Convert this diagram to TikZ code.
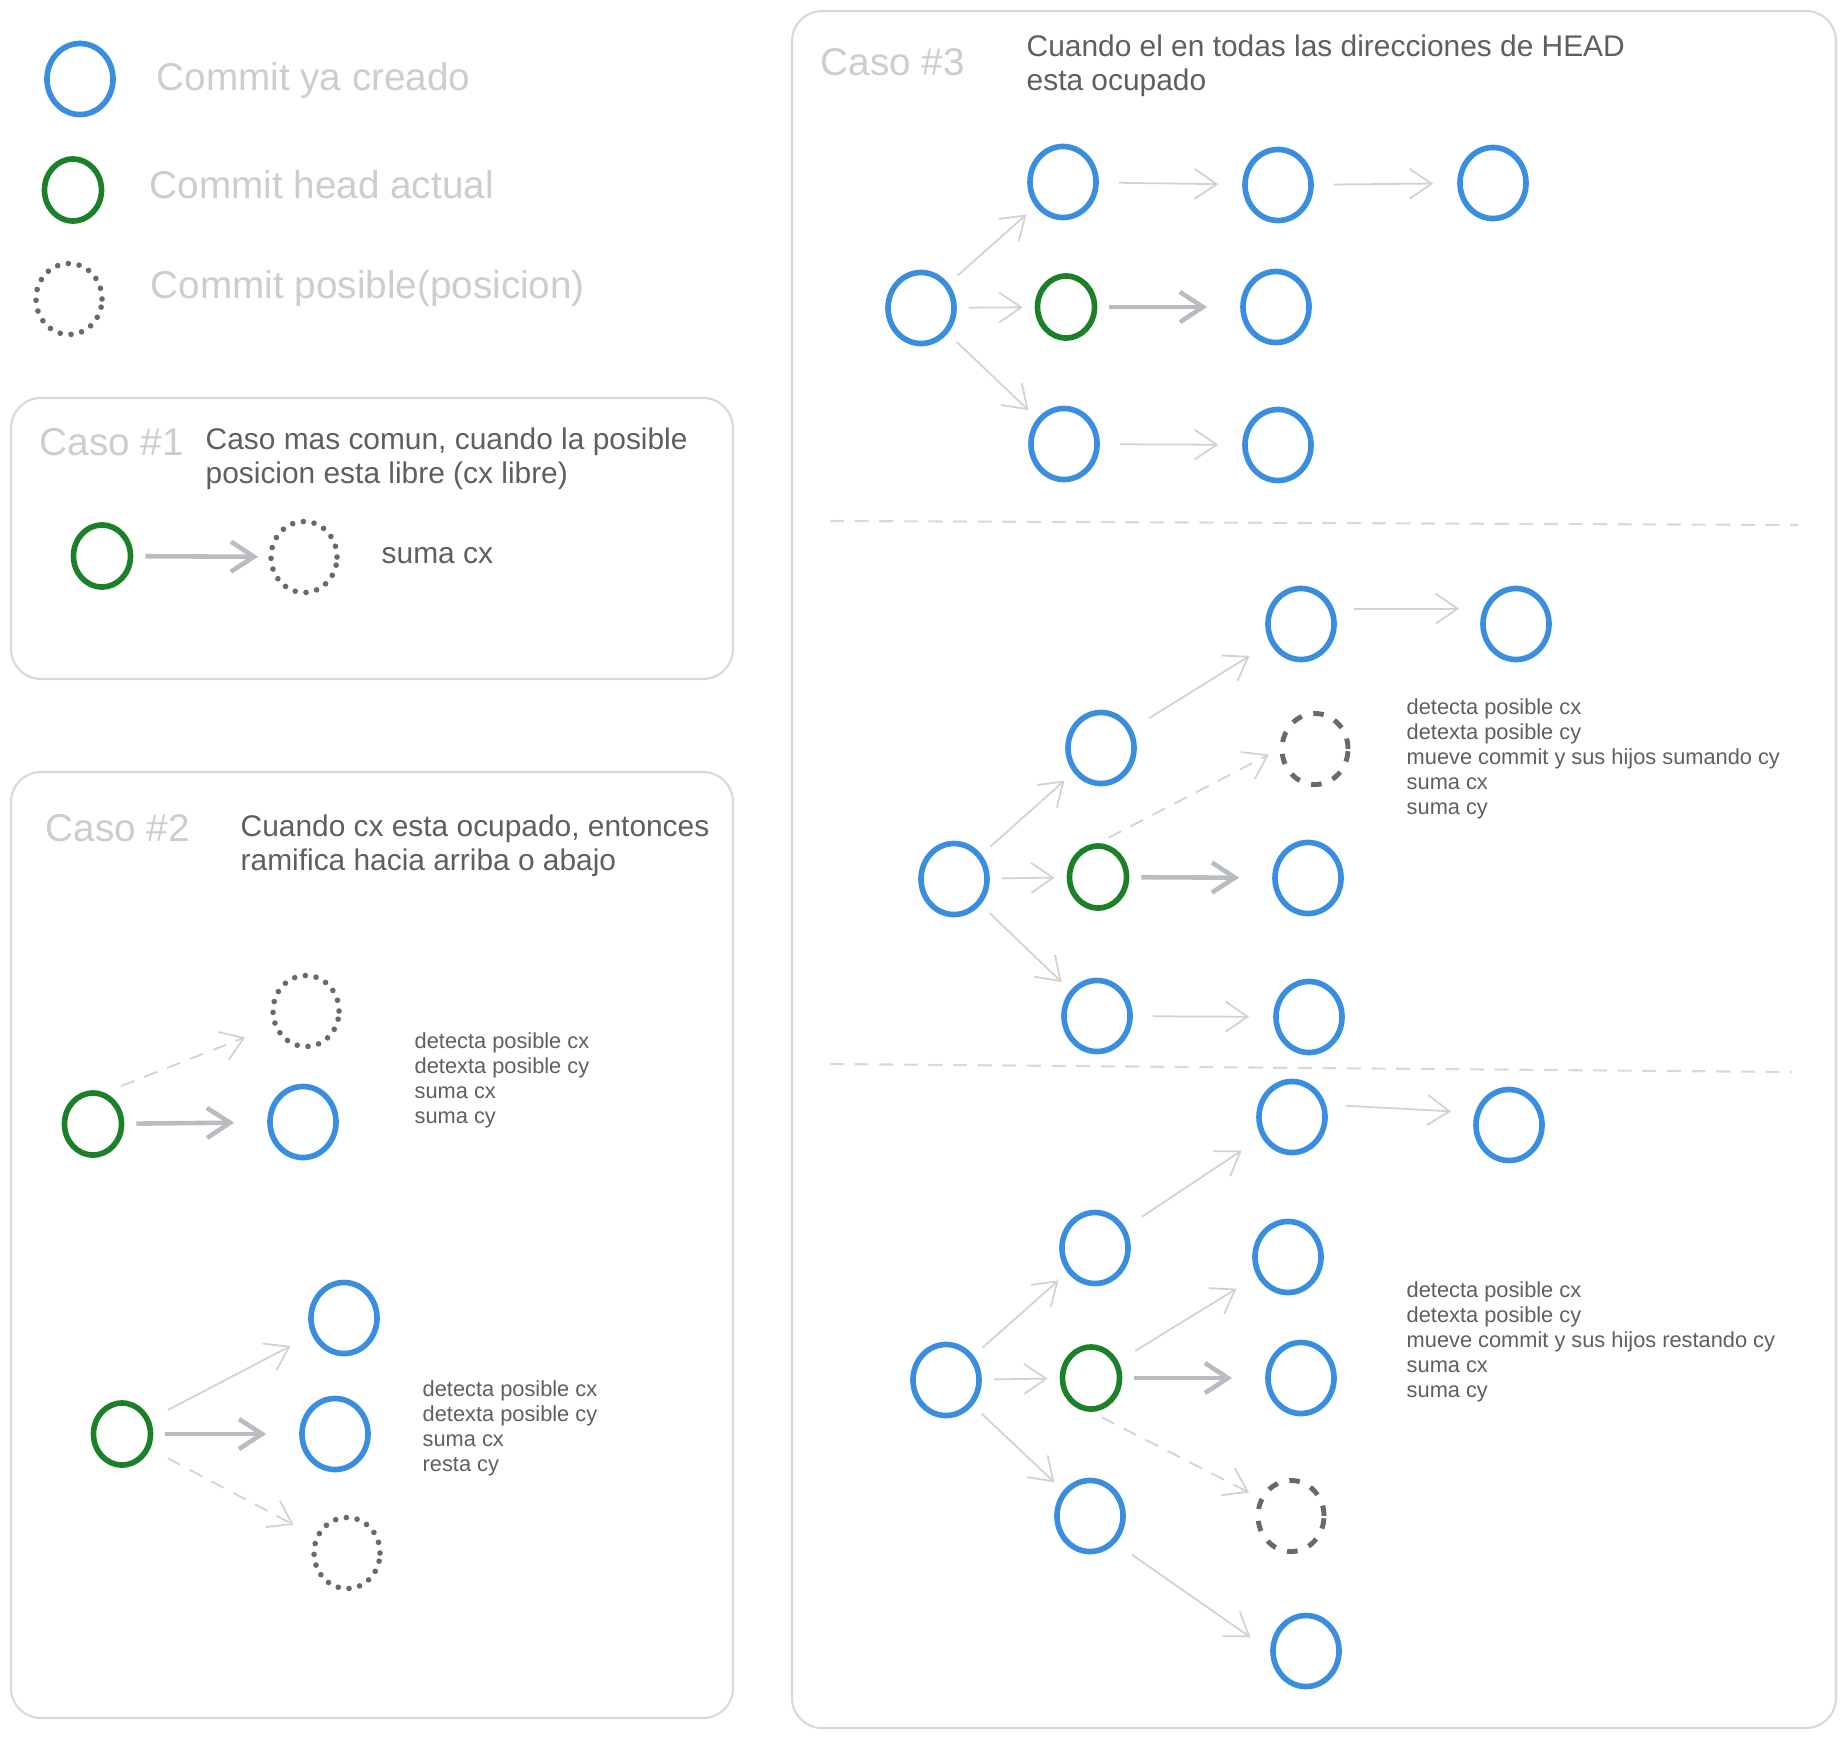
\documentclass[tikz,border=0pt]{standalone}
\usepackage{fontspec}
\setmainfont{Liberation Sans}
\usetikzlibrary{positioning}
\usetikzlibrary{arrows.meta}
\usetikzlibrary{shapes.geometric}

\definecolor{azul}{HTML}{3A8EE0}
\definecolor{verde}{HTML}{1B8128}
\definecolor{punto}{HTML}{666A70}
\definecolor{tinta}{HTML}{5C5F64}
\definecolor{tenue}{HTML}{CDCDCD}
\definecolor{gris}{HTML}{D2D2D2}
\definecolor{grisfuerte}{HTML}{B9BDC1}
\definecolor{borde}{HTML}{D9D9D9}

\begin{document}
\begin{tikzpicture}[x=0.01cm, y=-0.01cm,
    commit/.style={ellipse, draw=azul, line width=1.6pt, minimum width=6.6mm, minimum height=7.1mm, inner sep=0pt},
    head/.style={commit, draw=verde, minimum width=5.7mm, minimum height=6.2mm},
    posible/.style={commit, draw=punto, line width=1.6pt, line cap=round, dash pattern=on 0pt off 3.1pt},
    posdash/.style={commit, draw=punto, line width=1.4pt, dash pattern=on 3pt off 3.4pt},
    flecha/.style={draw=gris, line width=0.5pt, -{Straight Barb[length=2.2mm,width=3mm]}, shorten <=1.2mm, shorten >=1.2mm},
    lejos/.style={shorten <=2mm, shorten >=2.4mm},
    grueso/.style={draw=grisfuerte, line width=1.3pt, -{Straight Barb[length=2.3mm,width=3mm]}, shorten <=1.2mm, shorten >=3.3mm},
    tanteo/.style={flecha, dash pattern=on 4pt off 3pt},
    caja/.style={draw=borde, line width=0.6pt, rounded corners=3mm},
    corte/.style={draw=borde, line width=0.6pt, dash pattern=on 4pt off 3pt},
    caso/.style={anchor=west, inner sep=0pt, text=tenue, font=\fontsize{11}{13}\selectfont},
    nota/.style={anchor=west, inner sep=0pt, text=tinta, align=left, font=\fontsize{8.5}{9.6}\selectfont},
    pasos/.style={anchor=west, inner sep=0pt, text=tinta, align=left, font=\fontsize{6.2}{7.1}\selectfont}]

    \useasboundingbox (0,0) rectangle (1843,1736);
    \fill[white] (0,0) rectangle (1843,1736);

    % leyenda
    \node[commit] (lgc) at (80,79) {};
    \node[head] (lgh) at (73,190) {};
    \node[posible] (lgp) at (69,299) {};
    \node[caso] (lgct) at (156,80) {Commit ya creado};
    \node[caso] (lght) at (149,185) {Commit head actual};
    \node[caso] (lgpt) at (150,288) {Commit posible(posicion)};

    % caso 1
    \draw[caja] (11,398) rectangle (733,679);
    \node[caso] (c1t) at (39,442) {Caso \#1};
    \node[nota] (c1d) at (205,459) {Caso mas comun, cuando la posible\\posicion esta libre (cx libre)};
    \node[head] (c1h) at (102,556) {};
    \node[posible] (c1p) at (304,557) {};
    \node[nota] (c1n) at (381,556) {suma cx};
    \draw[grueso, shorten >=1mm] (c1h) -- (c1p);

    % caso 2
    \draw[caja] (11,772) rectangle (733,1718);
    \node[caso] (c2t) at (45,828) {Caso \#2};
    \node[nota] (c2d) at (240,846) {Cuando cx esta ocupado, entonces\\ramifica hacia arriba o abajo};

    \node[posible] (c2ap) at (306,1011) {};
    \node[head] (c2ah) at (93,1124) {};
    \node[commit] (c2ab) at (303,1122) {};
    \draw[grueso] (c2ah) -- (c2ab);
    \draw[tanteo, shorten <=1.8mm, shorten >=3mm] (c2ah.70) -- (c2ap.205);
    \node[pasos] (c2an) at (414,1080) {detecta posible cx\\detexta posible cy\\suma cx\\suma cy};

    \node[head] (c2bh) at (122,1434) {};
    \node[commit] (c2bt) at (344,1318) {};
    \node[commit] (c2bm) at (335,1434) {};
    \node[posible] (c2bp) at (347,1553) {};
    \draw[flecha, lejos] (c2bh) -- (c2bt);
    \draw[grueso] (c2bh) -- (c2bm);
    \draw[tanteo, lejos] (c2bh) -- (c2bp);
    \node[pasos] (c2bn) at (422,1428) {detecta posible cx\\detexta posible cy\\suma cx\\resta cy};

    % caso 3
    \draw[caja] (792,11) rectangle (1836,1728);
    \node[caso] (c3t) at (820,62) {Caso \#3};
    \node[nota] (c3d) at (1026,66) {Cuando el en todas las direcciones de HEAD\\esta ocupado};

    \node[commit] (s1a) at (1063,182) {};
    \node[commit] (s1b) at (1278,185) {};
    \node[commit] (s1c) at (1493,183) {};
    \node[commit] (s1r) at (921,308) {};
    \node[head] (s1h) at (1066,307) {};
    \node[commit] (s1d) at (1276,307) {};
    \node[commit] (s1e) at (1064,444) {};
    \node[commit] (s1f) at (1278,445) {};
    \foreach \a/\b in {s1r/s1a, s1r/s1h, s1r/s1e}
        \draw[flecha] (\a) -- (\b);
    \foreach \a/\b in {s1a/s1b, s1b/s1c, s1e/s1f}
        \draw[flecha, lejos] (\a) -- (\b);
    \draw[grueso] (s1h) -- (s1d);

    \draw[corte] (830,521) -- (1798,525);

    \node[commit] (s2a) at (1301,624) {};
    \node[commit] (s2b) at (1516,624) {};
    \node[commit] (s2u) at (1101,748) {};
    \node[posdash] (s2p) at (1315,749) {};
    \node[commit] (s2r) at (954,879) {};
    \node[head] (s2h) at (1098,877) {};
    \node[commit] (s2d) at (1308,878) {};
    \node[commit] (s2e) at (1097,1016) {};
    \node[commit] (s2f) at (1309,1017) {};
    \foreach \a/\b in {s2r/s2u, s2r/s2h, s2r/s2e}
        \draw[flecha] (\a) -- (\b);
    \draw[flecha, lejos] (s2u) -- (s2a);
    \draw[flecha, lejos] (s2a.25) -- (s2b.155);
    \draw[flecha, lejos] (s2e) -- (s2f);
    \draw[tanteo] (s2h.north) -- (s2p.west);
    \draw[grueso] (s2h) -- (s2d);
    \node[pasos] (s2n) at (1406,759) {detecta posible cx\\detexta posible cy\\mueve commit y sus hijos sumando cy\\suma cx\\suma cy};

    \draw[corte] (830,1064) -- (1792,1072);

    \node[commit] (s3a) at (1292,1117) {};
    \node[commit] (s3b) at (1509,1125) {};
    \node[commit] (s3u) at (1095,1248) {};
    \node[commit] (s3v) at (1288,1257) {};
    \node[commit] (s3r) at (946,1380) {};
    \node[head] (s3h) at (1091,1378) {};
    \node[commit] (s3d) at (1301,1378) {};
    \node[commit] (s3e) at (1090,1516) {};
    \node[posdash] (s3p) at (1291,1516) {};
    \node[commit] (s3g) at (1306,1651) {};
    \foreach \a/\b in {s3r/s3u, s3r/s3h, s3r/s3e}
        \draw[flecha] (\a) -- (\b);
    \foreach \a/\b in {s3u/s3a, s3h/s3v}
        \draw[flecha, lejos] (\a) -- (\b);
    \draw[flecha, lejos] (s3a.20) -- (s3b.160);
    \draw[flecha, lejos] (s3e.south east) -- (s3g.west);
    \draw[tanteo] (s3h.south) -- (s3p.150);
    \draw[grueso] (s3h) -- (s3d);
    \node[pasos] (s3n) at (1406,1342) {detecta posible cx\\detexta posible cy\\mueve commit y sus hijos restando cy\\suma cx\\suma cy};
\end{tikzpicture}
\end{document}
